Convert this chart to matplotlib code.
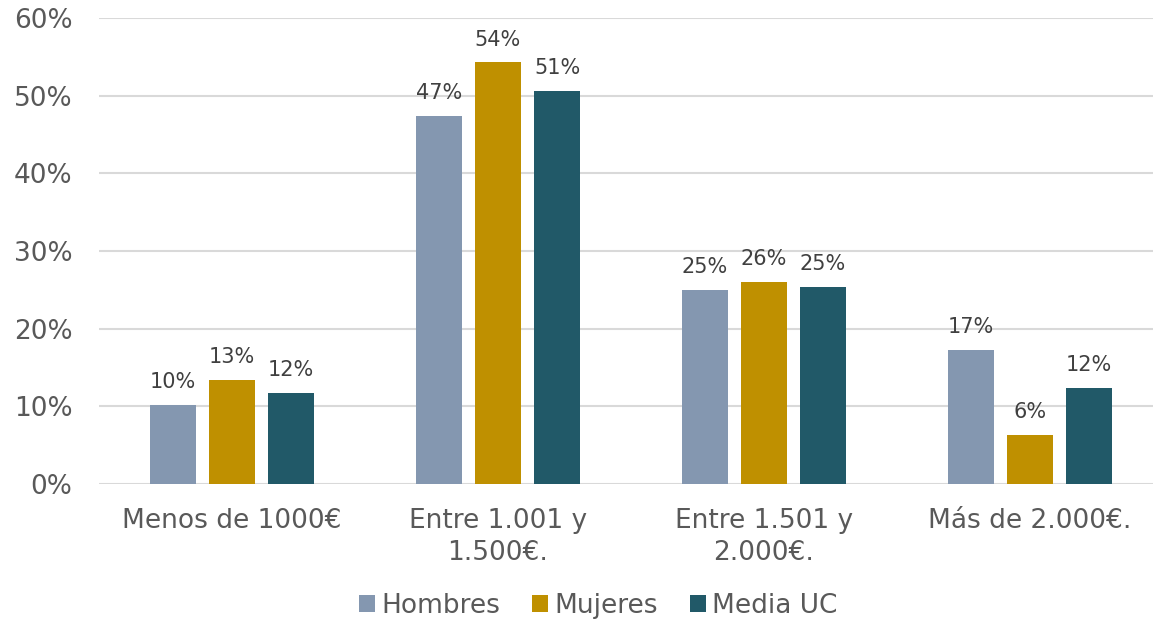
import matplotlib.pyplot as plt
import matplotlib
import numpy as np

fontsize = 19
matplotlib.rcParams['font.family'] = 'DejaVu Sans'
matplotlib.rcParams['font.size'] = fontsize

categories = ['Menos de 1000€', 'Entre 1.001 y\n1.500€.', 'Entre 1.501 y\n2.000€.', 'Más de 2.000€.']
series_names = ['Hombres', 'Mujeres', 'Media UC']
hombres = [10.2, 47.4, 25.0, 17.3]
mujeres = [13.4, 54.3, 26.0, 6.3]
media_uc = [11.7, 50.6, 25.4, 12.4]
yticks = [0, 10, 20, 30, 40, 50, 60]

colors = ['#8497B0', '#BF9000', '#215968']
grid_color = '#D9D9D9'
text_color = '#595959'
label_color = '#404040'

W, H = 1153, 621
fig = plt.figure(figsize=(W / 100, H / 100), dpi=100)
ax = fig.add_axes([99 / W, (H - 484) / H, (W - 99) / W, (484 - 18) / H])

x = np.arange(len(categories))
bar_w = 0.173
step = 0.222
for i, (name, vals) in enumerate(zip(series_names, [hombres, mujeres, media_uc])):
    bars = ax.bar(x + (i - 1) * step, vals, width=bar_w, color=colors[i], label=name, zorder=3)
    for b, v in zip(bars, vals):
        ax.annotate(f'{v:.0f}%', (b.get_x() + b.get_width() / 2, v), xytext=(0, 12),
                    textcoords='offset points', ha='center', va='baseline',
                    fontsize=15, color=label_color)

ax.set_xlim(-0.5, (W - 232) / 266)
ax.set_ylim(0, 60)
ax.set_yticks(yticks)
ax.set_yticklabels([f'{t}%' for t in yticks])
ax.set_xticks(x)
ax.set_xticklabels(categories, linespacing=1.3)
ax.tick_params(axis='both', length=0, colors=text_color, labelsize=fontsize)
ax.tick_params(axis='y', pad=19)
ax.tick_params(axis='x', pad=17)

ax.grid(axis='y', color=grid_color, linewidth=1.5, zorder=0)
for s in ax.spines.values():
    s.set_visible(False)

leg = fig.legend(loc='center', bbox_to_anchor=(0.519, 15 / H), ncol=3, frameon=False,
                 handlelength=0.6, handleheight=0.6, handletextpad=0.25, columnspacing=1.2,
                 borderpad=0, fontsize=fontsize)
for t in leg.get_texts():
    t.set_color(text_color)

fig.savefig('out.png', dpi=100)
